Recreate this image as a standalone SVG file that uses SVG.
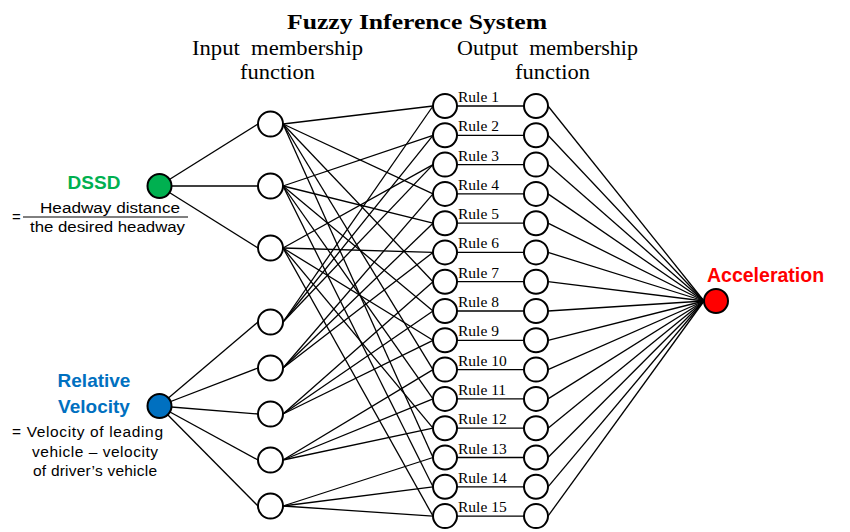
<svg xmlns="http://www.w3.org/2000/svg" width="850" height="532" viewBox="0 0 850 532">
<style>
.bg{fill:#fff}
.ln line{stroke:#000;stroke-width:1.3;fill:none}
.n{fill:#fff;stroke:#000;stroke-width:2}
.ser{font-family:"Liberation Serif","Times New Roman",serif;fill:#000}
.rule{font-family:"Liberation Serif","Times New Roman",serif;font-size:15.5px;fill:#000}
.sans{font-family:"Liberation Sans",Arial,sans-serif;fill:#000}
.lbl{font-family:"Liberation Sans",Arial,sans-serif;font-weight:bold}
</style>
<rect class="bg" x="0" y="0" width="850" height="532"/>
<g id="titles">
<text class="ser" x="287" y="29" font-size="22" font-weight="bold" textLength="260" lengthAdjust="spacingAndGlyphs">Fuzzy Inference System</text>
<text class="ser" x="192" y="55" font-size="20" textLength="171" lengthAdjust="spacingAndGlyphs" xml:space="preserve">Input  membership</text>
<text class="ser" x="240" y="79" font-size="20" textLength="75" lengthAdjust="spacingAndGlyphs">function</text>
<text class="ser" x="457" y="55" font-size="20" textLength="181" lengthAdjust="spacingAndGlyphs" xml:space="preserve">Output  membership</text>
<text class="ser" x="515" y="79" font-size="20" textLength="75" lengthAdjust="spacingAndGlyphs">function</text>
</g>
<g class="ln" id="connectors">
<line x1="159" y1="186" x2="258" y2="124"/>
<line x1="159" y1="186" x2="258" y2="186"/>
<line x1="159" y1="186" x2="258" y2="248"/>
<line x1="159" y1="406" x2="258" y2="322"/>
<line x1="159" y1="406" x2="258" y2="368"/>
<line x1="159" y1="406" x2="258" y2="414"/>
<line x1="159" y1="406" x2="258" y2="460"/>
<line x1="159" y1="406" x2="258" y2="506"/>
<line x1="283" y1="124" x2="433" y2="106"/>
<line x1="283" y1="124" x2="433" y2="193.9"/>
<line x1="283" y1="124" x2="433" y2="281.7"/>
<line x1="283" y1="124" x2="433" y2="369.6"/>
<line x1="283" y1="124" x2="433" y2="457.5"/>
<line x1="283" y1="186" x2="433" y2="135.3"/>
<line x1="283" y1="186" x2="433" y2="223.2"/>
<line x1="283" y1="186" x2="433" y2="311"/>
<line x1="283" y1="186" x2="433" y2="398.9"/>
<line x1="283" y1="186" x2="433" y2="486.8"/>
<line x1="283" y1="248" x2="433" y2="164.6"/>
<line x1="283" y1="248" x2="433" y2="252.4"/>
<line x1="283" y1="248" x2="433" y2="340.3"/>
<line x1="283" y1="248" x2="433" y2="428.2"/>
<line x1="283" y1="248" x2="433" y2="516.1"/>
<line x1="283" y1="322" x2="433" y2="106"/>
<line x1="283" y1="322" x2="433" y2="135.3"/>
<line x1="283" y1="322" x2="433" y2="164.6"/>
<line x1="283" y1="368" x2="433" y2="193.9"/>
<line x1="283" y1="368" x2="433" y2="223.2"/>
<line x1="283" y1="368" x2="433" y2="252.4"/>
<line x1="283" y1="414" x2="433" y2="281.7"/>
<line x1="283" y1="414" x2="433" y2="311"/>
<line x1="283" y1="414" x2="433" y2="340.3"/>
<line x1="283" y1="460" x2="433" y2="369.6"/>
<line x1="283" y1="460" x2="433" y2="398.9"/>
<line x1="283" y1="460" x2="433" y2="428.2"/>
<line x1="283" y1="506" x2="433" y2="457.5"/>
<line x1="283" y1="506" x2="433" y2="486.8"/>
<line x1="283" y1="506" x2="433" y2="516.1"/>
<line x1="457" y1="106" x2="524" y2="106"/>
<line x1="457" y1="135.3" x2="524" y2="135.3"/>
<line x1="457" y1="164.6" x2="524" y2="164.6"/>
<line x1="457" y1="193.9" x2="524" y2="193.9"/>
<line x1="457" y1="223.2" x2="524" y2="223.2"/>
<line x1="457" y1="252.4" x2="524" y2="252.4"/>
<line x1="457" y1="281.7" x2="524" y2="281.7"/>
<line x1="457" y1="311" x2="524" y2="311"/>
<line x1="457" y1="340.3" x2="524" y2="340.3"/>
<line x1="457" y1="369.6" x2="524" y2="369.6"/>
<line x1="457" y1="398.9" x2="524" y2="398.9"/>
<line x1="457" y1="428.2" x2="524" y2="428.2"/>
<line x1="457" y1="457.5" x2="524" y2="457.5"/>
<line x1="457" y1="486.8" x2="524" y2="486.8"/>
<line x1="457" y1="516.1" x2="524" y2="516.1"/>
<line x1="548" y1="106" x2="704" y2="301"/>
<line x1="548" y1="135.3" x2="704" y2="301"/>
<line x1="548" y1="164.6" x2="704" y2="301"/>
<line x1="548" y1="193.9" x2="704" y2="301"/>
<line x1="548" y1="223.2" x2="704" y2="301"/>
<line x1="548" y1="252.4" x2="704" y2="301"/>
<line x1="548" y1="281.7" x2="704" y2="301"/>
<line x1="548" y1="311" x2="704" y2="301"/>
<line x1="548" y1="340.3" x2="704" y2="301"/>
<line x1="548" y1="369.6" x2="704" y2="301"/>
<line x1="548" y1="398.9" x2="704" y2="301"/>
<line x1="548" y1="428.2" x2="704" y2="301"/>
<line x1="548" y1="457.5" x2="704" y2="301"/>
<line x1="548" y1="486.8" x2="704" y2="301"/>
<line x1="548" y1="516.1" x2="704" y2="301"/>
</g>
<g id="dssd">
<circle cx="159.5" cy="186" r="12" fill="#00B050" stroke="#000" stroke-width="2"/>
<text class="lbl" x="94" y="189" font-size="19" fill="#00B050" text-anchor="middle">DSSD</text>
<text class="sans" x="12" y="222" font-size="15">=</text>
<text class="sans" x="40" y="213" font-size="15.5" textLength="140" lengthAdjust="spacingAndGlyphs">Headway distance</text>
<line x1="23" y1="217" x2="188" y2="217" stroke="#000" stroke-width="1"/>
<text class="sans" x="30" y="232" font-size="15.5" textLength="155" lengthAdjust="spacingAndGlyphs">the desired headway</text>
</g>
<g id="relative-velocity">
<circle cx="159.5" cy="406" r="12" fill="#0070C0" stroke="#000" stroke-width="2"/>
<text class="lbl" x="94" y="387" font-size="19" fill="#0070C0" text-anchor="middle">Relative</text>
<text class="lbl" x="94" y="413" font-size="19" fill="#0070C0" text-anchor="middle">Velocity</text>
<text class="sans" x="12" y="437" font-size="15.5" textLength="151">= Velocity of leading</text>
<text class="sans" x="95" y="457" font-size="15.5" text-anchor="middle" textLength="126">vehicle – velocity</text>
<text class="sans" x="95" y="476" font-size="15.5" text-anchor="middle" textLength="124">of driver’s vehicle</text>
</g>
<g id="in-dssd-1"><circle class="n" cx="270.5" cy="124" r="12.5"/></g>
<g id="in-dssd-2"><circle class="n" cx="270.5" cy="186" r="12.5"/></g>
<g id="in-dssd-3"><circle class="n" cx="270.5" cy="248" r="12.5"/></g>
<g id="in-rv-1"><circle class="n" cx="270.5" cy="322" r="12.5"/></g>
<g id="in-rv-2"><circle class="n" cx="270.5" cy="368" r="12.5"/></g>
<g id="in-rv-3"><circle class="n" cx="270.5" cy="414" r="12.5"/></g>
<g id="in-rv-4"><circle class="n" cx="270.5" cy="460" r="12.5"/></g>
<g id="in-rv-5"><circle class="n" cx="270.5" cy="506" r="12.5"/></g>
<g id="rule-1"><circle class="n" cx="445" cy="106" r="12"/><text class="rule" x="458" y="102">Rule 1</text></g>
<g id="rule-2"><circle class="n" cx="445" cy="135.3" r="12"/><text class="rule" x="458" y="131.3">Rule 2</text></g>
<g id="rule-3"><circle class="n" cx="445" cy="164.6" r="12"/><text class="rule" x="458" y="160.6">Rule 3</text></g>
<g id="rule-4"><circle class="n" cx="445" cy="193.9" r="12"/><text class="rule" x="458" y="189.9">Rule 4</text></g>
<g id="rule-5"><circle class="n" cx="445" cy="223.2" r="12"/><text class="rule" x="458" y="219.2">Rule 5</text></g>
<g id="rule-6"><circle class="n" cx="445" cy="252.4" r="12"/><text class="rule" x="458" y="248.4">Rule 6</text></g>
<g id="rule-7"><circle class="n" cx="445" cy="281.7" r="12"/><text class="rule" x="458" y="277.7">Rule 7</text></g>
<g id="rule-8"><circle class="n" cx="445" cy="311" r="12"/><text class="rule" x="458" y="307">Rule 8</text></g>
<g id="rule-9"><circle class="n" cx="445" cy="340.3" r="12"/><text class="rule" x="458" y="336.3">Rule 9</text></g>
<g id="rule-10"><circle class="n" cx="445" cy="369.6" r="12"/><text class="rule" x="458" y="365.6">Rule 10</text></g>
<g id="rule-11"><circle class="n" cx="445" cy="398.9" r="12"/><text class="rule" x="458" y="394.9">Rule 11</text></g>
<g id="rule-12"><circle class="n" cx="445" cy="428.2" r="12"/><text class="rule" x="458" y="424.2">Rule 12</text></g>
<g id="rule-13"><circle class="n" cx="445" cy="457.5" r="12"/><text class="rule" x="458" y="453.5">Rule 13</text></g>
<g id="rule-14"><circle class="n" cx="445" cy="486.8" r="12"/><text class="rule" x="458" y="482.8">Rule 14</text></g>
<g id="rule-15"><circle class="n" cx="445" cy="516.1" r="12"/><text class="rule" x="458" y="512.1">Rule 15</text></g>
<g id="out-1"><circle class="n" cx="536" cy="106" r="12"/></g>
<g id="out-2"><circle class="n" cx="536" cy="135.3" r="12"/></g>
<g id="out-3"><circle class="n" cx="536" cy="164.6" r="12"/></g>
<g id="out-4"><circle class="n" cx="536" cy="193.9" r="12"/></g>
<g id="out-5"><circle class="n" cx="536" cy="223.2" r="12"/></g>
<g id="out-6"><circle class="n" cx="536" cy="252.4" r="12"/></g>
<g id="out-7"><circle class="n" cx="536" cy="281.7" r="12"/></g>
<g id="out-8"><circle class="n" cx="536" cy="311" r="12"/></g>
<g id="out-9"><circle class="n" cx="536" cy="340.3" r="12"/></g>
<g id="out-10"><circle class="n" cx="536" cy="369.6" r="12"/></g>
<g id="out-11"><circle class="n" cx="536" cy="398.9" r="12"/></g>
<g id="out-12"><circle class="n" cx="536" cy="428.2" r="12"/></g>
<g id="out-13"><circle class="n" cx="536" cy="457.5" r="12"/></g>
<g id="out-14"><circle class="n" cx="536" cy="486.8" r="12"/></g>
<g id="out-15"><circle class="n" cx="536" cy="516.1" r="12"/></g>
<g id="acceleration">
<circle cx="716" cy="301" r="12" fill="#FF0000" stroke="#000" stroke-width="2"/>
<text class="lbl" x="707" y="282" font-size="19.5" fill="#FF0000">Acceleration</text>
</g>
</svg>
